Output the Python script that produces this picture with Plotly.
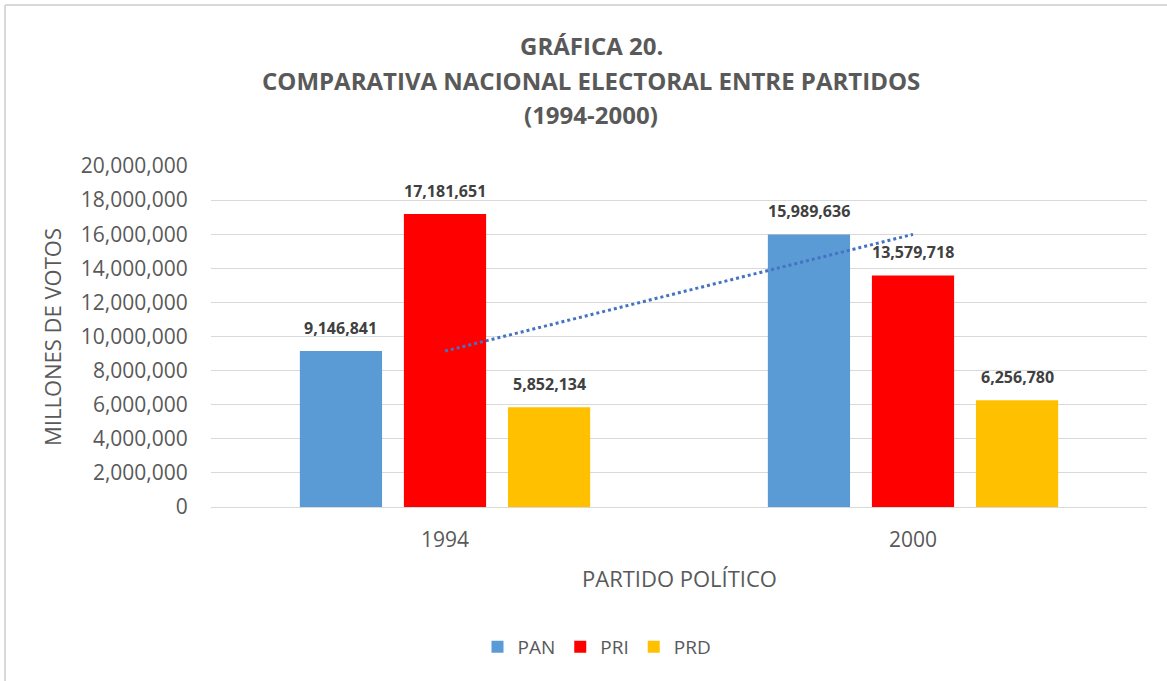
import numpy as np
import plotly.graph_objects as go

years = ["1994", "2000"]
pan = [9146841, 15989636]
pri = [17181651, 13579718]
prd = [5852134, 6256780]
series_names = ["PAN", "PRI", "PRD"]
series_colors = ["#5B9BD5", "#FF0000", "#FFC000"]
y_ticks = list(range(0, 20000001, 2000000))
title_lines = ["GRÁFICA 20.", "COMPARATIVA NACIONAL ELECTORAL ENTRE PARTIDOS", "(1994-2000)"]

W, H = 1167, 681
PL, PR, PT, PB = 211, 1147, 166, 507  # plot area in page px
ML, MR, MT, MB = PL, W - PR, PT, H - PB
PW, PH = PR - PL, PB - PT

BARGAP, GROUPGAP = 0.333, 0.21
FONT = "Open Sans, Noto Sans, sans-serif"
GRAY = "#595959"

def px_x(p):
    return (p - PL) / PW

def px_y(p):
    return (PB - p) / PH

fig = go.Figure()
series_vals = [pan, pri, prd]
for name, vals, col in zip(series_names, series_vals, series_colors):
    fig.add_trace(go.Bar(
        x=years, y=vals, name=name, marker=dict(color=col, line=dict(width=0)),
    ))

# linear trendline for PAN
xi = np.arange(len(years))
coef = np.polyfit(xi, pan, 1)
trend = np.polyval(coef, xi)
fig.add_trace(go.Scatter(
    x=years, y=trend, mode="lines", showlegend=False, hoverinfo="skip",
    line=dict(color="#4472C4", width=3, dash="dot"),
))

annotations = []
slot = (1 - BARGAP) / len(series_names)
for j, vals in enumerate(series_vals):
    for i, v in enumerate(vals):
        annotations.append(dict(
            x=i + (j - (len(series_names) - 1) / 2) * slot, y=v, xref="x", yref="y",
            text=f"{v:,}", showarrow=False, yanchor="middle", yshift=23,
            font=dict(family=FONT, size=16, color="#404040", weight="bold"),
        ))

shapes = [
    dict(type="line", xref="paper", yref="paper", x0=px_x(5), x1=px_x(W + 20), y0=px_y(5), y1=px_y(5),
         line=dict(color="#D9D9D9", width=2)),
    dict(type="line", xref="paper", yref="paper", x0=px_x(5), x1=px_x(5), y0=px_y(5), y1=px_y(H + 20),
         line=dict(color="#D9D9D9", width=2)),
]

for i, line in enumerate(title_lines):
    annotations.append(dict(
        text=line, xref="paper", yref="paper", x=px_x(591), y=px_y(45 + 35 * i),
        xanchor="center", yanchor="middle", showarrow=False,
        font=dict(family=FONT, size=24, color=GRAY, weight="bold"),
    ))
annotations.append(dict(
    text="MILLONES DE VOTOS", xref="paper", yref="paper", x=px_x(52), y=px_y(337),
    xanchor="center", yanchor="middle", showarrow=False, textangle=-90,
    font=dict(family=FONT, size=22, color=GRAY),
))
annotations.append(dict(
    text="PARTIDO POLÍTICO", xref="paper", yref="paper", x=px_x(679), y=px_y(578),
    xanchor="center", yanchor="middle", showarrow=False,
    font=dict(family=FONT, size=22, color=GRAY),
))

fig.update_layout(
    width=W, height=H,
    margin=dict(l=ML, r=MR, t=MT, b=MB),
    paper_bgcolor="white", plot_bgcolor="white",
    font=dict(family=FONT, color=GRAY),
    barmode="group", bargap=BARGAP, bargroupgap=GROUPGAP,
    xaxis=dict(
        type="category", showgrid=False, showline=False,
        ticks="outside", ticklen=14, tickcolor="rgba(0,0,0,0)",
        tickfont=dict(size=21, color=GRAY),
    ),
    yaxis=dict(
        range=[0, 20000000], tickvals=y_ticks, tickformat=",d",
        showgrid=True, gridcolor="#D9D9D9", gridwidth=1,
        zeroline=True, zerolinecolor="#D9D9D9", zerolinewidth=1,
        tickfont=dict(size=21, color=GRAY), ticks="outside", ticklen=18, tickcolor="rgba(0,0,0,0)",
    ),
    legend=dict(
        orientation="h", x=px_x(597), xanchor="center", y=px_y(647), yanchor="middle",
        font=dict(size=19, color=GRAY), traceorder="normal", itemwidth=30,
    ),
    shapes=shapes,
    annotations=annotations,
)

fig.write_html("out.html", config={"displayModeBar": False},
               post_script="document.body.style.margin='0';")
